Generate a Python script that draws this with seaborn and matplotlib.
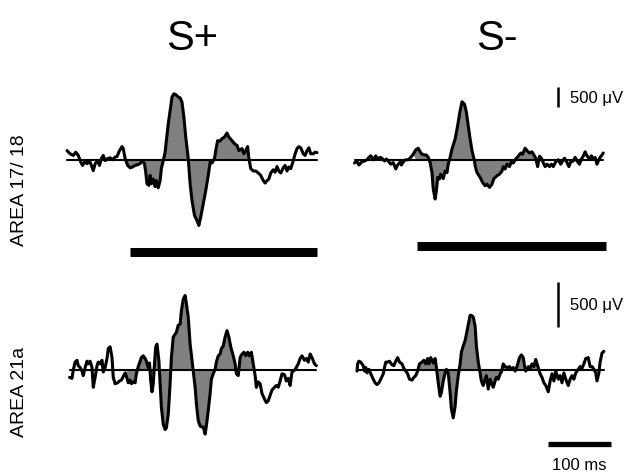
import numpy as np
import seaborn as sns
import matplotlib
matplotlib.use("Agg")
import matplotlib.pyplot as plt

# time (ms, stimulus onset = 0) and field potential (uV) per condition
t_splus_17 = [-100,-95,-90,-86,-82,-78,-75,-71,-68,-64,-60,-58,-55,-51,-48,-45,-42,-39,-35,-31,
              -27,-23,-20,-16,-12,-10,-7,-3,1,5,9,14,18,21,24,26,28,31,33,35,
              38,41,43,46,49,51,54,57,59,62,65,68,71,74,78,81,84,87,90,94,
              97,100,104,108,111,114,118,122,126,129,132,136,138,141,145,148,152,156,159,164,
              168,172,175,180,183,186,189,191,194,198,202,206,210,214,217,220,223,226,230,233,
              236,239,242,246,249,252,255,258,262,265,268,271,274,278,281,284,287,290,294,297,300]
uv_splus_17 = [230,150,110,190,110,-60,-140,-30,-100,-20,-180,-270,-100,-20,-140,30,110,-20,30,50,
               0,70,80,230,330,280,30,-140,-200,-180,-140,-120,-80,-30,-100,-310,-600,-640,-390,-600,
               -480,-670,-520,-700,-520,-220,-20,190,480,900,1230,1570,1650,1630,1570,1550,1440,1070,570,30,
               -600,-1020,-1390,-1520,-1640,-1430,-1100,-770,-390,-60,-80,30,230,480,470,530,570,670,570,480,
               400,360,230,280,150,230,330,30,-220,-280,-280,-330,-390,-520,-580,-520,-480,-330,-250,-310,
               -170,-280,-330,-200,-140,-280,-180,-220,-30,150,280,330,300,150,110,230,300,150,150,190,180]

t_sminus_17 = [-100,-96,-93,-88,-84,-80,-77,-74,-70,-66,-63,-59,-56,-52,-49,-46,-42,-38,-34,-31,
               -27,-25,-21,-18,-14,-10,-6,-2,2,5,8,12,15,18,21,24,26,29,31,33,
               36,38,42,45,48,50,53,56,61,65,69,72,76,79,82,85,88,92,93,96,
               101,105,109,112,116,120,123,128,132,136,138,141,144,148,151,154,158,162,166,169,
               173,176,180,184,187,190,193,196,199,202,205,208,212,215,218,222,226,230,233,236,
               240,243,246,250,253,256,260,263,266,269,272,276,279,282,285,288,292,295,298]
uv_sminus_17 = [-80,-30,-130,-50,-30,0,60,100,0,100,20,60,40,-30,20,-30,-110,-70,-230,-130,
                -50,-130,-30,0,0,60,140,250,290,200,140,120,120,60,-70,-320,-730,-980,-780,-440,
                -480,-360,-470,-280,-320,-110,60,270,520,850,1230,1450,1390,1190,850,520,230,-30,-150,-320,
                -440,-570,-650,-610,-690,-610,-470,-400,-360,-280,-170,-230,-110,-170,-50,-80,20,90,170,140,
                290,230,170,200,120,40,-170,90,40,-70,-170,-110,-170,-110,-170,-50,0,-110,-30,40,
                -70,-170,-50,-30,60,-30,-110,20,90,200,100,20,100,20,60,-110,40,100,170]

t_splus_21 = [-96,-92,-90,-87,-84,-82,-79,-76,-74,-71,-68,-66,-63,-60,-58,-55,-52,-50,-47,-44,
              -42,-39,-36,-34,-31,-28,-26,-23,-19,-16,-13,-10,-7,-4,-2,1,3,6,9,11,
              14,17,19,22,25,27,30,32,34,36,38,40,42,44,47,49,51,54,57,59,
              62,65,67,70,73,75,78,81,83,86,89,91,94,97,100,102,105,107,110,113,
              115,118,121,123,126,129,131,134,137,139,142,145,147,150,153,156,159,162,166,169,
              171,174,177,179,183,186,189,192,195,198,201,203,206,209,212,216,219,222,225,228,
              232,235,238,241,244,248,251,254,257,260,264,267,270,273,276,280,283,286,289,292,296,299]
uv_splus_21 = [-80,-90,0,90,110,50,30,-10,-60,30,100,70,100,30,-190,-80,50,90,70,110,
               -20,30,130,240,260,140,-80,-150,-140,-120,-110,-70,-30,-90,-140,-110,-150,-130,-140,-40,
               40,100,140,160,130,100,30,80,-120,-240,-150,70,260,290,110,-150,-410,-600,-660,-640,
               -490,-150,140,370,400,420,500,510,660,790,830,740,590,290,110,0,-190,-370,-560,-620,
               -630,-630,-710,-620,-450,-260,-100,-40,10,90,160,180,240,270,370,440,370,260,160,70,
               -40,-60,140,170,200,160,200,160,200,70,-60,-190,-130,-150,-260,-320,-360,-340,-280,-220,
               -190,-170,-190,-120,-40,-50,-120,-90,-170,-20,0,30,70,130,160,110,130,90,180,140,70,50]

t_sminus_21 = [-96,-95,-93,-90,-86,-84,-82,-80,-77,-74,-70,-67,-64,-61,-58,-54,-52,-50,-47,-44,
               -40,-37,-34,-31,-28,-24,-21,-18,-15,-12,-8,-5,-2,1,4,8,11,14,17,19,
               22,26,29,31,34,37,39,42,45,47,50,53,55,58,61,63,66,69,71,74,
               77,79,82,85,87,90,93,95,98,101,103,106,109,111,114,117,119,122,125,127,
               130,133,135,138,141,144,148,151,154,157,160,164,167,170,172,174,178,181,184,187,
               190,194,197,200,203,206,210,213,216,219,222,226,229,232,235,238,242,245,248,251,
               254,258,261,264,267,270,274,277,280,283,286,288,291,293,296,299]
uv_sminus_21 = [-10,70,100,90,50,-10,30,-30,10,-40,-100,-140,-160,-140,-100,-40,30,90,90,100,
                60,50,100,140,90,70,20,-10,-40,-100,-110,-80,-60,-10,70,90,110,70,130,70,
                140,80,130,30,-140,-290,-250,-120,-30,10,-30,-250,-430,-530,-400,-230,-60,70,200,270,
                330,400,510,610,610,590,490,270,90,-30,-120,-170,-100,-60,-210,-100,-140,-190,-120,-80,
                -100,-40,-20,70,40,30,40,10,30,-10,40,140,170,140,50,-10,40,20,70,40,
                120,30,-40,-80,-140,-170,-240,-120,-40,-120,-10,-100,-60,-140,-30,-100,-170,-100,-60,-100,
                -30,10,40,20,70,130,140,40,40,10,-30,-120,-30,90,190,210]

conditions = ["S+", "S-"]
areas = ["AREA 17/ 18", "AREA 21a"]
fill_window = (-4, 195)      # ms, shaded part of each response
stim_on, stim_off = 0, 300   # ms, stimulus bar
scale_uv = 500
scale_ms = 100

sns.set_style("white")
plt.rcParams['font.family'] = ['Liberation Sans', 'DejaVu Sans']
plt.rcParams['text.color'] = 'black'

W, H = 629, 477
fig = plt.figure(figsize=(W / 100, H / 100), dpi=100)

# layout in pixels: box (left, top, right, bottom), x of -100 ms, y of baseline, uV per pixel
layout = {
    (0, 0): dict(box=(50, 70, 330, 270), x0=67.0, base=160.8, k=25.0),
    (0, 1): dict(box=(340, 70, 629, 270), x0=354.5, base=160.8, k=25.0),
    (1, 0): dict(box=(50, 275, 330, 477), x0=67.0, base=371.2, k=500 / 45),
    (1, 1): dict(box=(340, 275, 629, 477), x0=354.5, base=371.2, k=500 / 45),
}
ms_per_px = 1.6

traces = {
    (0, 0): (t_splus_17, uv_splus_17),
    (0, 1): (t_sminus_17, uv_sminus_17),
    (1, 0): (t_splus_21, uv_splus_21),
    (1, 1): (t_sminus_21, uv_sminus_21),
}

axes = {}
for key, lay in layout.items():
    l, t, r, b = lay["box"]
    ax = fig.add_axes([l / W, 1 - b / H, (r - l) / W, (b - t) / H])
    ax.set_xlim(-100 + (l - lay["x0"]) * ms_per_px, -100 + (r - lay["x0"]) * ms_per_px)
    ax.set_ylim((lay["base"] - b) * lay["k"], (lay["base"] - t) * lay["k"])
    ax.axis("off")
    tt, vv = np.array(traces[key][0]), np.array(traces[key][1])
    mask = (tt >= fill_window[0]) & (tt <= fill_window[1])
    ax.fill_between(tt, vv, 0, where=mask, interpolate=True, color="#808080", lw=0)
    ax.plot([tt[0], tt[-1]], [0, 0], color="black", lw=1.5)
    sns.lineplot(x=tt, y=vv, ax=ax, color="black", lw=2.2, estimator=None, sort=False)
    axes[key] = ax

# stimulus bars under the top row
axes[(0, 0)].plot([stim_on, stim_off], [-2300, -2300], color="black", lw=6.5, solid_capstyle="butt")
axes[(0, 1)].plot([stim_on, stim_off + 3], [-2160, -2160], color="black", lw=6.5, solid_capstyle="butt")

# scale bars
for row, y0 in [(0, 1320), (1, 480)]:
    ax = axes[(row, 1)]
    ax.plot([226, 226], [y0, y0 + scale_uv], color="black", lw=1.8, solid_capstyle="butt")
    ax.text(245, y0 + scale_uv / 2, "500 μV", fontsize=12, ha="left", va="center")

ax = axes[(1, 1)]
ax.plot([210, 210 + scale_ms], [-822, -822], color="black", lw=3.8, solid_capstyle="butt")
ax.text(260, -1044, "100 ms", fontsize=12, ha="center", va="center")

# titles and row labels
fig.text(192 / W, 1 - 39 / H, conditions[0], fontsize=30, ha="center", va="center")
fig.text(497 / W, 1 - 39 / H, conditions[1], fontsize=30, ha="center", va="center")
fig.text(20 / W, 1 - 190 / H, areas[0], fontsize=14, rotation=90, ha="center", va="center")
fig.text(20 / W, 1 - 392 / H, areas[1], fontsize=14, rotation=90, ha="center", va="center")

fig.savefig("out.png", dpi=100)
